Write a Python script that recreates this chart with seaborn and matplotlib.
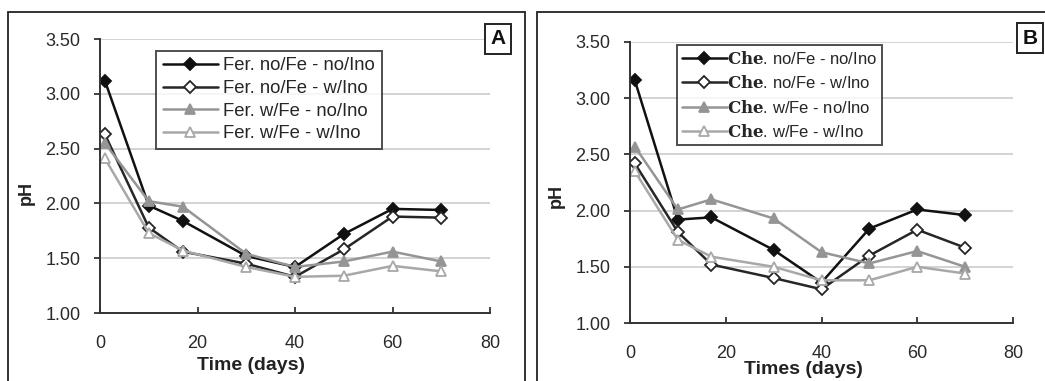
import numpy as np
import pandas as pd
import matplotlib
matplotlib.use("Agg")
import matplotlib.pyplot as plt
import seaborn as sns
from matplotlib.patches import Rectangle

days = [1, 10, 17, 30, 40, 50, 60, 70]

# panel A - Fer.
fer_nofe_noino = [3.12, 1.98, 1.84, 1.52, 1.42, 1.72, 1.95, 1.94]
fer_nofe_wino = [2.63, 1.78, 1.56, 1.45, 1.33, 1.58, 1.88, 1.87]
fer_wfe_noino = [2.55, 2.02, 1.97, 1.54, 1.42, 1.47, 1.56, 1.47]
fer_wfe_wino = [2.41, 1.73, 1.57, 1.42, 1.33, 1.34, 1.43, 1.38]

# panel B - Che.
che_nofe_noino = [3.16, 1.92, 1.94, 1.65, 1.36, 1.84, 2.01, 1.96]
che_nofe_wino = [2.42, 1.81, 1.52, 1.40, 1.30, 1.60, 1.83, 1.67]
che_wfe_noino = [2.57, 2.01, 2.10, 1.93, 1.63, 1.53, 1.64, 1.50]
che_wfe_wino = [2.35, 1.74, 1.59, 1.50, 1.38, 1.38, 1.50, 1.44]

conditions = ["no/Fe - no/Ino", "no/Fe - w/Ino", "w/Fe - no/Ino", "w/Fe - w/Ino"]

# line colour, marker, marker face, marker size
styles = [
    ("#111111", "D", "#111111", 6.5),
    ("#262626", "D", "white", 6.5),
    ("#959595", "^", "#959595", 7.5),
    ("#a8a8a8", "^", "white", 7.5),
]

sns.set_style("white")
plt.rcParams["font.family"] = ["Liberation Sans", "DejaVu Sans"]

fig = plt.figure(figsize=(10.45, 3.81), dpi=100)

# panel frames
fig.patches.append(Rectangle((8 / 1045, -0.02), 517 / 1045, 1 - 12 / 381 + 0.02,
                             transform=fig.transFigure, fill=False, ec="#222222", lw=1.3))
fig.patches.append(Rectangle((537 / 1045, -0.02), 520 / 1045, 1 - 12 / 381 + 0.02,
                             transform=fig.transFigure, fill=False, ec="#222222", lw=1.3))

ax_a = fig.add_axes([100 / 1045, 1 - 313 / 381, 390 / 1045, 274 / 381])
ax_b = fig.add_axes([630 / 1045, 1 - 323 / 381, 383 / 1045, 281 / 381])

panels = [
    (ax_a, "Fer. ", [fer_nofe_noino, fer_nofe_wino, fer_wfe_noino, fer_wfe_wino]),
    (ax_b, r"$\mathbf{Che}$. ", [che_nofe_noino, che_nofe_wino, che_wfe_noino, che_wfe_wino]),
]

for ax, prefix, series in panels:
    for vals, cond, (col, mk, mfc, ms) in zip(series, conditions, styles):
        df = pd.DataFrame({"day": days, "pH": vals})
        sns.lineplot(data=df, x="day", y="pH", ax=ax, color=col, marker=mk,
                     markerfacecolor=mfc, markeredgecolor=col, markersize=ms,
                     markeredgewidth=1.3, lw=1.8, label=prefix + cond)
    ax.set_xlim(0, 80)
    ax.set_ylim(1.0, 3.5)
    ax.set_xticks([0, 20, 40, 60, 80])
    ax.set_yticks([1.0, 1.5, 2.0, 2.5, 3.0, 3.5])
    ax.set_yticklabels(["%.2f" % v for v in ax.get_yticks()])
    ax.yaxis.grid(True, color="#cccccc", lw=1.2)
    ax.set_axisbelow(True)
    for s in ["top", "right"]:
        ax.spines[s].set_visible(False)
    for s in ["left", "bottom"]:
        ax.spines[s].set_color("#333333")
        ax.spines[s].set_linewidth(1.4)
    ax.tick_params(axis="both", labelsize=13, colors="#333333", length=4, width=1.3,
                   labelcolor="#2a2a2a")
    ax.tick_params(axis="x", direction="in", pad=16)
    ax.tick_params(axis="y", direction="out", left=True, pad=10)
    ax.tick_params(axis="x", bottom=True)
    ax.set_xlabel("")
    ax.set_ylabel("")

leg_a = ax_a.legend(loc="upper left", bbox_to_anchor=(0.12, 0.99), fontsize=13.3,
                    frameon=True, fancybox=False, edgecolor="#222222", handlelength=3.0,
                    handletextpad=0.3, labelspacing=0.3, borderpad=0.35)
leg_a.get_frame().set_linewidth(1.4)

leg_b = ax_b.legend(loc="upper left", bbox_to_anchor=(0.10, 1.02), fontsize=12,
                    frameon=True, fancybox=False, edgecolor="#222222", handlelength=2.7,
                    handletextpad=0.0, labelspacing=0.45, borderpad=0.3)
leg_b.get_frame().set_linewidth(1.4)
for t in leg_b.get_texts():
    t.set_math_fontfamily("dejavuserif")

fig.text(251 / 1045, 1 - 365 / 381, "Time (days)", ha="center", va="center",
         fontsize=14, fontweight="bold", color="#222222")
fig.text(803 / 1045, 1 - 369 / 381, "Times (days)", ha="center", va="center",
         fontsize=14, fontweight="bold", color="#222222")
fig.text(26 / 1045, 1 - 193 / 381, "pH", rotation=90, ha="center", va="center",
         fontsize=13, fontweight="bold", color="#222222")
fig.text(556 / 1045, 1 - 196 / 381, "pH", rotation=90, ha="center", va="center",
         fontsize=13, fontweight="bold", color="#222222")

fig.text(498 / 1045, 1 - 39 / 381, "A", ha="center", va="center", fontsize=15,
         fontweight="bold", color="#111111",
         bbox=dict(boxstyle="square,pad=0.25", fc="white", ec="#222222", lw=1.4))
fig.text(1030 / 1045, 1 - 38 / 381, "B", ha="center", va="center", fontsize=15,
         fontweight="bold", color="#111111",
         bbox=dict(boxstyle="square,pad=0.25", fc="white", ec="#222222", lw=1.4))

fig.savefig("out.png", dpi=100)
